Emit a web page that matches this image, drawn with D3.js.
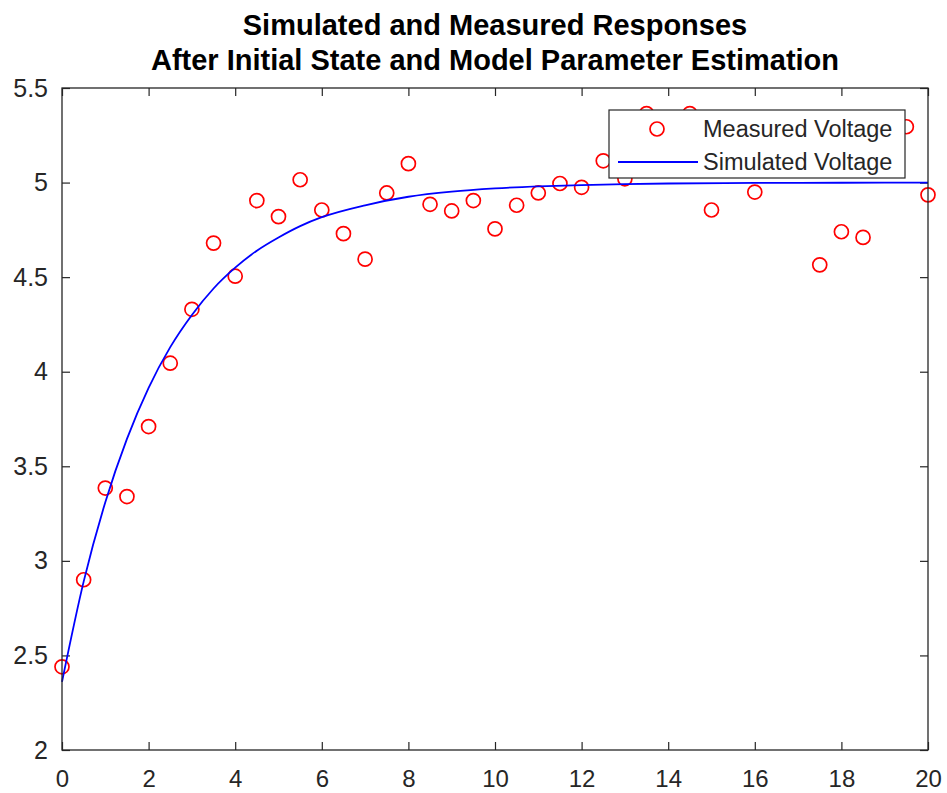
<!DOCTYPE html>
<html>
<head>
<meta charset="utf-8">
<script src="https://cdn.jsdelivr.net/npm/d3@7"></script>
<style>
  html, body { margin: 0; padding: 0; background: #fff; }
  svg { display: block; }
  text { font-family: "Liberation Sans", Arial, Helvetica, sans-serif; }
</style>
</head>
<body>
<svg id="chart" width="947" height="793"></svg>
<script>
// ---- data ----
const titleLines = ["Simulated and Measured Responses", "After Initial State and Model Parameter Estimation"];
const seriesNames = ["Measured Voltage", "Simulated Voltage"];

const measTime = [0, 0.5, 1, 1.5, 2, 2.5, 3, 3.5, 4, 4.5, 5, 5.5, 6, 6.5, 7, 7.5, 8, 8.5, 9, 9.5,
                  10, 10.5, 11, 11.5, 12, 12.5, 13, 13.5, 14, 14.5, 15, 15.5, 16, 16.5, 17, 17.5, 18, 18.5, 19, 19.5, 20];
const measVolt = [2.44, 2.90, 3.385, 3.34, 3.71, 4.045, 4.33, 4.68, 4.505, 4.905, 4.82, 5.015, 4.855, 4.73, 4.595, 4.945, 5.10, 4.885, 4.85, 4.905,
                  4.755, 4.88, 4.945, 4.995, 4.975, 5.115, 5.02, 5.365, 5.20, 5.365, 4.855, 5.15, 4.95, 5.25, 5.10, 4.565, 4.74, 4.71, 5.20, 5.295, 4.935];

const simTime = [0, 0.5, 1, 1.5, 2, 2.5, 3, 3.5, 4, 4.5, 5, 5.5, 6, 7, 8, 9, 10, 11, 12, 13, 14, 16, 18, 20];
const simVolt = [2.36, 2.89, 3.31, 3.645, 3.915, 4.13, 4.30, 4.44, 4.55, 4.64, 4.71, 4.77, 4.817, 4.88, 4.925, 4.952, 4.969, 4.98, 4.987, 4.992, 4.995, 4.998, 4.999, 5.0];

const xTicks = [0, 2, 4, 6, 8, 10, 12, 14, 16, 18, 20];
const yTicks = [2, 2.5, 3, 3.5, 4, 4.5, 5, 5.5];
const xDomain = [0, 20];
const yDomain = [2, 5.5];

// ---- layout ----
const plot = { left: 62, top: 88, right: 928, bottom: 750 };
const axisColor = "#262626";

const svg = d3.select("#chart");
const x = d3.scaleLinear().domain(xDomain).range([plot.left, plot.right]);
const y = d3.scaleLinear().domain(yDomain).range([plot.bottom, plot.top]);

svg.append("rect").attr("x", plot.left).attr("y", plot.top)
  .attr("width", plot.right - plot.left).attr("height", plot.bottom - plot.top)
  .attr("fill", "#fff");

const fmt = d3.format("~g");
const tickLen = 8;

function styleAxis(size) {
  return g => {
    g.select(".domain").remove();
    g.selectAll(".tick line").attr("stroke", axisColor).attr("stroke-width", 1.2);
    g.selectAll(".tick text").attr("fill", axisColor).attr("font-size", size);
  };
}

svg.append("g").attr("transform", `translate(0,${plot.bottom})`)
  .call(d3.axisBottom(x).tickValues(xTicks).tickFormat(fmt).tickSizeInner(-tickLen).tickSizeOuter(0).tickPadding(20))
  .call(styleAxis(24));
svg.append("g").attr("transform", `translate(${plot.left},0)`)
  .call(d3.axisLeft(y).tickValues(yTicks).tickFormat(fmt).tickSizeInner(-tickLen).tickSizeOuter(0).tickPadding(14))
  .call(styleAxis(25));
svg.append("g").attr("transform", `translate(0,${plot.top})`)
  .call(d3.axisTop(x).tickValues(xTicks).tickFormat("").tickSizeInner(-tickLen).tickSizeOuter(0))
  .call(styleAxis(24));
svg.append("g").attr("transform", `translate(${plot.right},0)`)
  .call(d3.axisRight(y).tickValues(yTicks).tickFormat("").tickSizeInner(-tickLen).tickSizeOuter(0))
  .call(styleAxis(24));

// measured markers
svg.append("g").selectAll("circle")
  .data(measTime.map((t, i) => [t, measVolt[i]]))
  .join("circle")
  .attr("cx", d => x(d[0])).attr("cy", d => y(d[1]))
  .attr("r", 7).attr("fill", "none").attr("stroke", "#ff0000").attr("stroke-width", 1.7);

// simulated line
const line = d3.line().x(d => x(d[0])).y(d => y(d[1])).curve(d3.curveMonotoneX);
svg.append("path")
  .datum(simTime.map((t, i) => [t, simVolt[i]]))
  .attr("d", line).attr("fill", "none").attr("stroke", "#0000ff").attr("stroke-width", 1.8);

// axes box
svg.append("rect").attr("x", plot.left).attr("y", plot.top)
  .attr("width", plot.right - plot.left).attr("height", plot.bottom - plot.top)
  .attr("fill", "none").attr("stroke", axisColor).attr("stroke-width", 1.3);

// title
svg.append("g").selectAll("text").data(titleLines).join("text")
  .attr("x", (plot.left + plot.right) / 2)
  .attr("y", (d, i) => 35 + i * 35)
  .attr("text-anchor", "middle").attr("font-size", 29).attr("font-weight", "bold")
  .attr("fill", "#000").text(d => d);

// legend
const lg = svg.append("g");
const lgBox = { x: 609, y: 110, w: 296, h: 68 };
lg.append("rect").attr("x", lgBox.x).attr("y", lgBox.y).attr("width", lgBox.w).attr("height", lgBox.h)
  .attr("fill", "#fff").attr("stroke", axisColor).attr("stroke-width", 1.2);
const rowY = [129, 162];
lg.append("circle").attr("cx", 657).attr("cy", rowY[0]).attr("r", 7)
  .attr("fill", "none").attr("stroke", "#ff0000").attr("stroke-width", 1.7);
lg.append("line").attr("x1", 618).attr("x2", 698).attr("y1", rowY[1]).attr("y2", rowY[1])
  .attr("stroke", "#0000ff").attr("stroke-width", 1.8);
lg.selectAll("text.lbl").data(seriesNames).join("text").attr("class", "lbl")
  .attr("x", 703).attr("y", (d, i) => rowY[i]).attr("dy", "0.35em")
  .attr("font-size", 23.5).attr("fill", axisColor).text(d => d);
</script>
</body>
</html>
